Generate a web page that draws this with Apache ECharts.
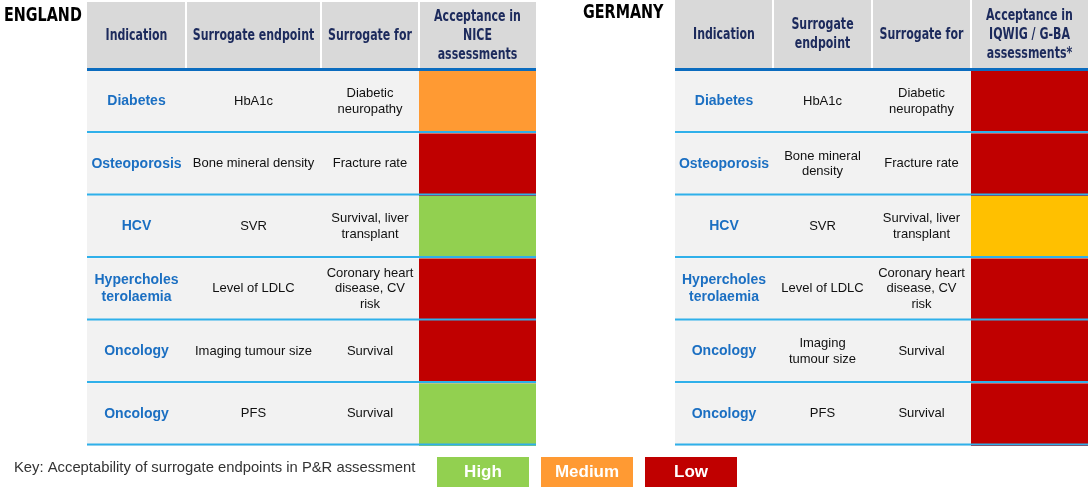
<!DOCTYPE html>
<html>
<head>
<meta charset="utf-8">
<script src="https://cdn.jsdelivr.net/npm/echarts@6/dist/echarts.min.js"></script>
<style>
html,body{margin:0;padding:0;background:#fff;}
#chart{width:1088px;height:489px;}
</style>
</head>
<body>
<div id="chart"></div>
<script>
// ---------- DATA ----------
const englandTitle = 'ENGLAND';
const englandHeaders = ['Indication', 'Surrogate endpoint', 'Surrogate for', 'Acceptance in\nNICE\nassessments'];
const englandIndications = ['Diabetes', 'Osteoporosis', 'HCV', 'Hypercholes\nterolaemia', 'Oncology', 'Oncology'];
const englandEndpoints = ['HbA1c', 'Bone mineral density', 'SVR', 'Level of LDLC', 'Imaging tumour size', 'PFS'];
const englandSurrogateFor = ['Diabetic\nneuropathy', 'Fracture rate', 'Survival, liver\ntransplant', 'Coronary heart\ndisease, CV\nrisk', 'Survival', 'Survival'];
const englandAcceptance = ['Medium', 'Low', 'High', 'Low', 'Low', 'High'];

const germanyTitle = 'GERMANY';
const germanyHeaders = ['Indication', 'Surrogate\nendpoint', 'Surrogate for', 'Acceptance in\nIQWIG / G-BA\nassessments*'];
const germanyIndications = ['Diabetes', 'Osteoporosis', 'HCV', 'Hypercholes\nterolaemia', 'Oncology', 'Oncology'];
const germanyEndpoints = ['HbA1c', 'Bone mineral\ndensity', 'SVR', 'Level of LDLC', 'Imaging\ntumour size', 'PFS'];
const germanySurrogateFor = ['Diabetic\nneuropathy', 'Fracture rate', 'Survival, liver\ntransplant', 'Coronary heart\ndisease, CV\nrisk', 'Survival', 'Survival'];
const germanyAcceptance = ['Low', 'Low', 'Partial', 'Low', 'Low', 'Low'];

const keyText = 'Key: Acceptability of surrogate endpoints in P&R assessment';
const keyLevels = ['High', 'Medium', 'Low'];

// ---------- STYLE / LAYOUT ----------
const levelColors = { High: '#92d050', Medium: '#ff9a33', Low: '#c00000', Partial: '#ffc000' };
const HEADER_FONT = 'bold 15px "DejaVu Sans Condensed", sans-serif';
const HEADER_SCALE = 0.815;
const TITLE_FONT = 'bold 19px "DejaVu Sans Condensed", sans-serif';
const TITLE_SCALE = 0.84;
const IND_FONT = 'bold 14px "Liberation Sans", Arial, sans-serif';
const BODY_FONT = '13px "Liberation Sans", Arial, sans-serif';
const NAVY = '#1c2a5c';
const BLUE_TEXT = '#1b6fc2';
const DARK_LINE = '#0b6cbf';
const ROW_LINE = '#2fb0ea';
const HEADER_BG = '#d9d9d9';
const ROW_BG = '#f2f2f2';
const BODY_TOP = 71, BODY_H = 375, HEADER_BOTTOM = 68;

const tables = [
  { title: englandTitle, headers: englandHeaders, ind: englandIndications, end: englandEndpoints,
    sfor: englandSurrogateFor, acc: englandAcceptance,
    edges: [0, 99, 234, 332, 449], left: 87, titleX: 4, titleY: 16, headerTop: 2 },
  { title: germanyTitle, headers: germanyHeaders, ind: germanyIndications, end: germanyEndpoints,
    sfor: germanySurrogateFor, acc: germanyAcceptance,
    edges: [0, 98, 197, 296, 413], left: 675, titleX: 583, titleY: 13, headerTop: 0 }
];

const chart = echarts.init(document.getElementById('chart'), null, { renderer: 'canvas' });

const grids = [], xAxes = [], yAxes = [], series = [], graphics = [];

tables.forEach((t, ti) => {
  const width = t.edges[t.edges.length - 1];
  grids.push({ left: t.left, top: BODY_TOP, width: width, height: BODY_H, containLabel: false });
  xAxes.push({ type: 'value', gridIndex: ti, min: 0, max: width, show: false });
  yAxes.push({ type: 'category', gridIndex: ti, inverse: true, data: t.ind.map((_, i) => String(i)), show: false });

  series.push({
    type: 'custom',
    xAxisIndex: ti, yAxisIndex: ti,
    clip: false,
    silent: true,
    encode: { x: 0, y: 1 },
    data: t.ind.map((_, i) => [0, i]),
    renderItem: function (params, api) {
      const i = params.dataIndex;
      const center = api.coord([0, i]);
      const bandH = api.size([0, 1])[1];
      const top = center[1] - bandH / 2;
      const bottom = center[1] + bandH / 2;
      const xs = t.edges.map(e => api.coord([e, i])[0]);
      const midY = (top + bottom - 2) / 2;
      const cx = k => (xs[k] + xs[k + 1]) / 2;
      return {
        type: 'group',
        children: [
          { type: 'rect', shape: { x: xs[0], y: top, width: xs[4] - xs[0], height: bandH }, style: { fill: ROW_BG } },
          { type: 'rect', shape: { x: xs[3], y: top, width: xs[4] - xs[3], height: bandH }, style: { fill: levelColors[t.acc[i]] } },
          { type: 'rect', shape: { x: xs[0], y: bottom - 2.5, width: xs[4] - xs[0], height: 2 }, style: { fill: ROW_LINE } },
          { type: 'text', style: { text: t.ind[i], x: cx(0), y: midY, align: 'center', verticalAlign: 'middle', font: IND_FONT, fill: BLUE_TEXT, lineHeight: 17 } },
          { type: 'text', style: { text: t.end[i], x: cx(1), y: midY, align: 'center', verticalAlign: 'middle', font: BODY_FONT, fill: '#111', lineHeight: 15.5 } },
          { type: 'text', style: { text: t.sfor[i], x: cx(2), y: midY, align: 'center', verticalAlign: 'middle', font: BODY_FONT, fill: '#111', lineHeight: 15.5 } }
        ]
      };
    }
  });

  // header
  const x0 = t.left;
  graphics.push({ type: 'rect', shape: { x: x0, y: t.headerTop, width: width, height: HEADER_BOTTOM - t.headerTop }, style: { fill: HEADER_BG }, silent: true });
  for (let k = 1; k < t.edges.length - 1; k++) {
    graphics.push({ type: 'rect', shape: { x: t.left + t.edges[k] - 1, y: t.headerTop, width: 2, height: HEADER_BOTTOM - t.headerTop }, style: { fill: '#ffffff' }, silent: true });
  }
  t.headers.forEach((h, k) => {
    graphics.push({ type: 'text', silent: true,
      x: t.left + (t.edges[k] + t.edges[k + 1]) / 2, y: (t.headerTop + HEADER_BOTTOM) / 2 + 1,
      scaleX: HEADER_SCALE,
      style: { text: h, x: 0, y: 0, align: 'center', verticalAlign: 'middle', font: HEADER_FONT, fill: NAVY, lineHeight: 19 } });
  });
  graphics.push({ type: 'rect', shape: { x: x0, y: HEADER_BOTTOM, width: width, height: 3 }, style: { fill: DARK_LINE }, silent: true });
  graphics.push({ type: 'text', silent: true,
    x: t.titleX, y: t.titleY, scaleX: TITLE_SCALE,
    style: { text: t.title, x: 0, y: 0, align: 'left', verticalAlign: 'middle', font: TITLE_FONT, fill: '#000' } });
});

// key
graphics.push({ type: 'text', silent: true,
  style: { text: keyText, x: 14, y: 468, align: 'left', verticalAlign: 'middle', font: '14.8px "Liberation Sans", Arial, sans-serif', fill: '#333' } });
const keyBoxLeft = [437, 541, 645];
keyLevels.forEach((lv, k) => {
  graphics.push({ type: 'rect', silent: true, shape: { x: keyBoxLeft[k], y: 457, width: 92, height: 30 }, style: { fill: levelColors[lv] } });
  graphics.push({ type: 'text', silent: true,
    style: { text: lv, x: keyBoxLeft[k] + 46, y: 472.5, align: 'center', verticalAlign: 'middle', font: 'bold 17px "Liberation Sans", Arial, sans-serif', fill: '#fff' } });
});

chart.setOption({
  animation: false,
  backgroundColor: '#ffffff',
  grid: grids,
  xAxis: xAxes,
  yAxis: yAxes,
  series: series,
  graphic: { elements: graphics }
});
</script>
</body>
</html>
